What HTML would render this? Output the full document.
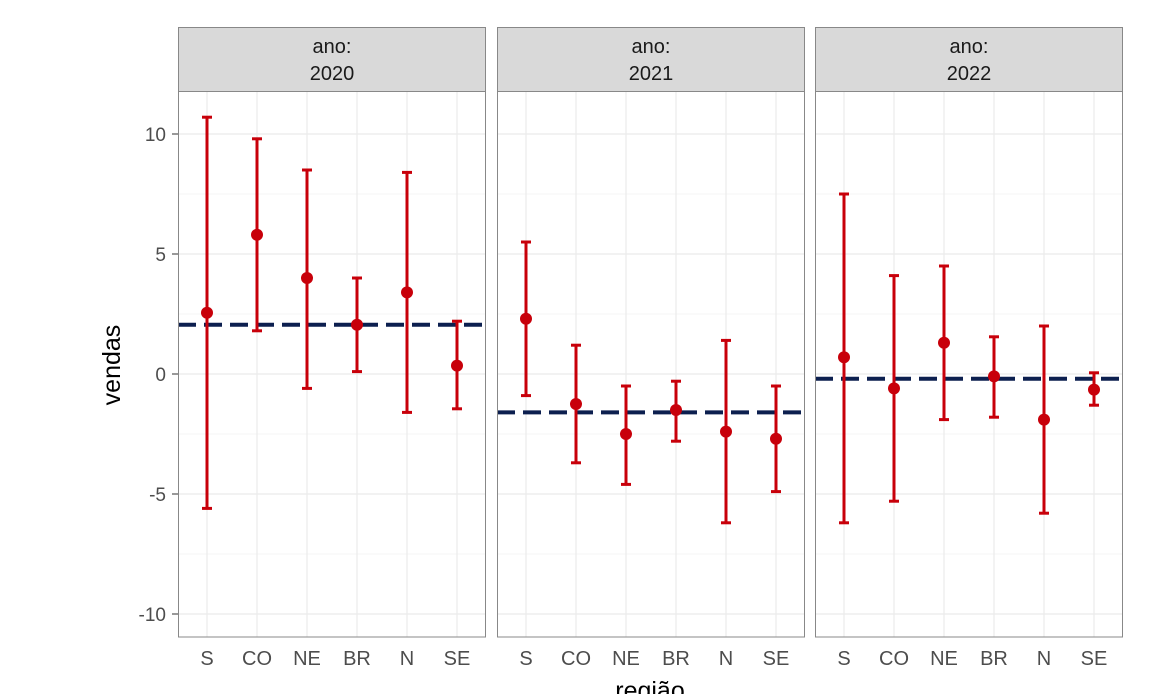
<!DOCTYPE html>
<html><head><meta charset="utf-8"><style>
body{margin:0;background:#fff;font-family:"Liberation Sans",sans-serif;}
svg text{font-family:"Liberation Sans",sans-serif;}
</style></head><body>
<svg id="chart" width="1170" height="694" viewBox="0 0 1170 694"></svg>
<script>
const years = ["2020","2021","2022"];
const regions = ["S","CO","NE","BR","N","SE"];
const means2020 = [2.55,5.8,4.0,2.05,3.4,0.35];
const lows2020  = [-5.6,1.8,-0.6,0.1,-1.6,-1.45];
const highs2020 = [10.7,9.8,8.5,4.0,8.4,2.2];
const means2021 = [2.3,-1.25,-2.5,-1.5,-2.4,-2.7];
const lows2021  = [-0.9,-3.7,-4.6,-2.8,-6.2,-4.9];
const highs2021 = [5.5,1.2,-0.5,-0.3,1.4,-0.5];
const means2022 = [0.7,-0.6,1.3,-0.1,-1.9,-0.65];
const lows2022  = [-6.2,-5.3,-1.9,-1.8,-5.8,-1.3];
const highs2022 = [7.5,4.1,4.5,1.55,2.0,0.05];
const refLines = [2.05,-1.6,-0.2];
const yTicks = [10,5,0,-5,-10];

const series = [[means2020,lows2020,highs2020],[means2021,lows2021,highs2021],[means2022,lows2022,highs2022]];
const NS="http://www.w3.org/2000/svg";
const svg=document.getElementById("chart");
function mk(tag,attrs,parent){const e=document.createElementNS(NS,tag);for(const k in attrs)e.setAttribute(k,attrs[k]);(parent||svg).appendChild(e);return e;}
const panelX=[178,497,815], panelW=308, plotTop=91, plotBottom=637;
const y=v=>374-24*v;
const x=(p,i)=>panelX[p]+29+i*50;

for(let p=0;p<3;p++){
  const g=mk("g",{});
  
  
  mk("rect",{x:panelX[p],y:plotTop,width:panelW,height:plotBottom-plotTop,fill:"#fff"},g);
  for(let v=-10;v<=11;v+=2.5){
    const ln=mk("line",{x1:panelX[p],x2:panelX[p]+panelW,y1:y(v),y2:y(v),stroke:"#ebebeb","stroke-width":(v%5===0)?1.2:0.6},g);
    
    
  }
  for(let i=0;i<regions.length;i++){
    mk("line",{x1:x(p,i),x2:x(p,i),y1:plotTop,y2:plotBottom,stroke:"#ebebeb","stroke-width":1.2},g);
  }
  const [m,lo,hi]=series[p];
  const ref=mk("line",{x1:panelX[p],x2:panelX[p]+panelW,y1:y(refLines[p]),y2:y(refLines[p]),stroke:"#0c1f4f","stroke-width":4,"stroke-dasharray":"18,8"},g);
  
  
  for(let i=0;i<regions.length;i++){
    const eg=mk("g",{},g);
    
    
    const cx=x(p,i);
    mk("line",{x1:cx,x2:cx,y1:y(lo[i]),y2:y(hi[i]),stroke:"#c8000a","stroke-width":3},eg);
    mk("line",{x1:cx-5,x2:cx+5,y1:y(lo[i]),y2:y(lo[i]),stroke:"#c8000a","stroke-width":3},eg);
    mk("line",{x1:cx-5,x2:cx+5,y1:y(hi[i]),y2:y(hi[i]),stroke:"#c8000a","stroke-width":3},eg);
    mk("circle",{cx:cx,cy:y(m[i]),r:6,fill:"#c8000a"},eg);
    const t=mk("text",{x:cx,y:665,"text-anchor":"middle","font-size":20,fill:"#4d4d4d"});
    t.textContent=regions[i];
    
    
  }
  mk("rect",{x:panelX[p]+0.5,y:plotTop,width:panelW-1,height:plotBottom-plotTop,fill:"none",stroke:"#888","stroke-width":1},g);
  const s=mk("rect",{x:panelX[p]+0.5,y:27.5,width:panelW-1,height:plotTop-27,fill:"#d9d9d9",stroke:"#888","stroke-width":1});
  
  
  const t1=mk("text",{x:panelX[p]+panelW/2,y:53,"text-anchor":"middle","font-size":20,fill:"#1a1a1a"});t1.textContent="ano:";
  
  
  const t2=mk("text",{x:panelX[p]+panelW/2,y:80,"text-anchor":"middle","font-size":20,fill:"#1a1a1a"});t2.textContent=years[p];
  
  
}
for(const v of yTicks){
  const t=mk("text",{x:166,y:y(v)+7,"text-anchor":"end","font-size":19,fill:"#4d4d4d"});
  t.textContent=v;
  
  
  mk("line",{x1:172,x2:178,y1:y(v),y2:y(v),stroke:"#333","stroke-width":1});
}
const yt=mk("text",{x:0,y:0,transform:"translate(120,365) rotate(-90)","text-anchor":"middle","font-size":25,fill:"#000"});
yt.textContent="vendas";


const xt=mk("text",{x:650,y:699,"text-anchor":"middle","font-size":25,fill:"#000"});
xt.textContent="região";


</script>
</body></html>
